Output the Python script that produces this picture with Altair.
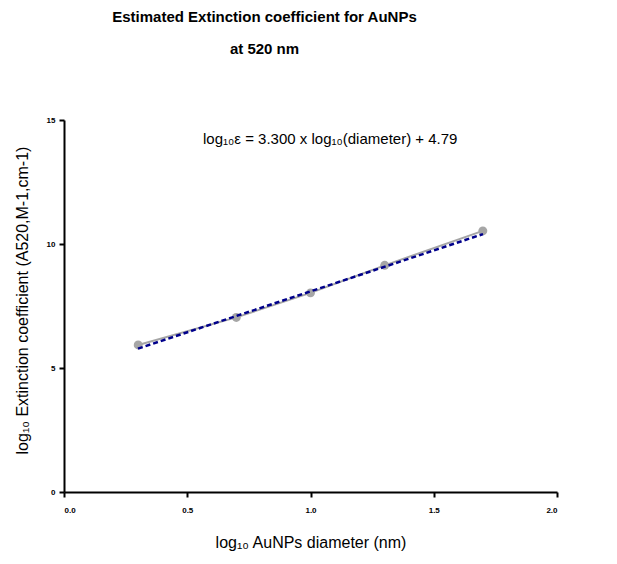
import altair as alt
import pandas as pd

# data
log_diam = [0.301, 0.699, 1.0, 1.301, 1.699]
log_eps = [5.93, 7.04, 8.03, 9.14, 10.53]
fit_x = [0.30, 1.70]
fit_y = [5.78, 10.40]
x_ticks = [0.0, 0.5, 1.0, 1.5, 2.0]
y_ticks = [0, 5, 10, 15]
equation = "log\u2081\u2080\u03b5 = 3.300 x log\u2081\u2080(diameter) + 4.79"

pts = pd.DataFrame({"x": log_diam, "y": log_eps})
fit = pd.DataFrame({"x": fit_x, "y": fit_y})
ann = pd.DataFrame({"x": [0.564], "y": [14.03], "t": [equation]})

FONT = "Liberation Sans"

xenc = alt.X(
    "x:Q",
    scale=alt.Scale(domain=[0, 2], nice=False, zero=False),
    axis=alt.Axis(
        values=x_ticks, format=".1f", grid=False,
        title="log\u2081\u2080 AuNPs diameter (nm)",
        titleFont=FONT, titleFontSize=16, titleFontWeight="normal", titleColor="black",
        titleBaseline="alphabetic", titleY=55,
        labelFont=FONT, labelFontSize=8, labelFontWeight="bold", labelColor="black",
        labelPadding=9,
        domainColor="black", domainWidth=2, tickColor="black", tickWidth=2, tickSize=5,
    ),
)
yenc = alt.Y(
    "y:Q",
    scale=alt.Scale(domain=[0, 15], nice=False),
    axis=alt.Axis(
        values=y_ticks, format="d", grid=False,
        title="log\u2081\u2080 Extinction coefficient (A520,M-1,cm-1)",
        titleFont=FONT, titleFontSize=16, titleFontWeight="normal", titleColor="black",
        titleBaseline="alphabetic", titleX=-37, titleY=180, titleAngle=-90, titleAlign="center",
        labelFont=FONT, labelFontSize=8, labelFontWeight="bold", labelColor="black",
        labelPadding=4,
        domainColor="black", domainWidth=2, tickColor="black", tickWidth=2, tickSize=5,
    ),
)

base = alt.Chart(pts)
line = base.mark_line(color="#a6a6a6", strokeWidth=2).encode(x=xenc, y=yenc)
dots = base.mark_circle(color="#a6a6a6", size=80, opacity=1).encode(x="x:Q", y="y:Q")
fitl = alt.Chart(fit).mark_line(color="#00008b", strokeWidth=2.5, strokeDash=[5, 3]).encode(x="x:Q", y="y:Q")
txt = alt.Chart(ann).mark_text(
    align="left", baseline="alphabetic", font=FONT, fontSize=15, color="black"
).encode(x="x:Q", y="y:Q", text="t:N")

chart = alt.layer(line, dots, fitl, txt).properties(
    width=493,
    height=372,
    title=alt.TitleParams(
        text=["Estimated Extinction coefficient for AuNPs", "at 520 nm"],
        font=FONT, fontSize=15, fontWeight="bold", color="black",
        anchor="middle", frame="group", dx=-46, baseline="bottom",
        offset=44, lineHeight=32,
    ),
    autosize=alt.AutoSizeParams(type="none"),
    padding={"left": 64, "top": 120, "right": 60, "bottom": 72},
).configure(background="white").configure_view(stroke=None, strokeWidth=0)

chart.save("out.html", embed_options={"renderer": "svg", "actions": False})
